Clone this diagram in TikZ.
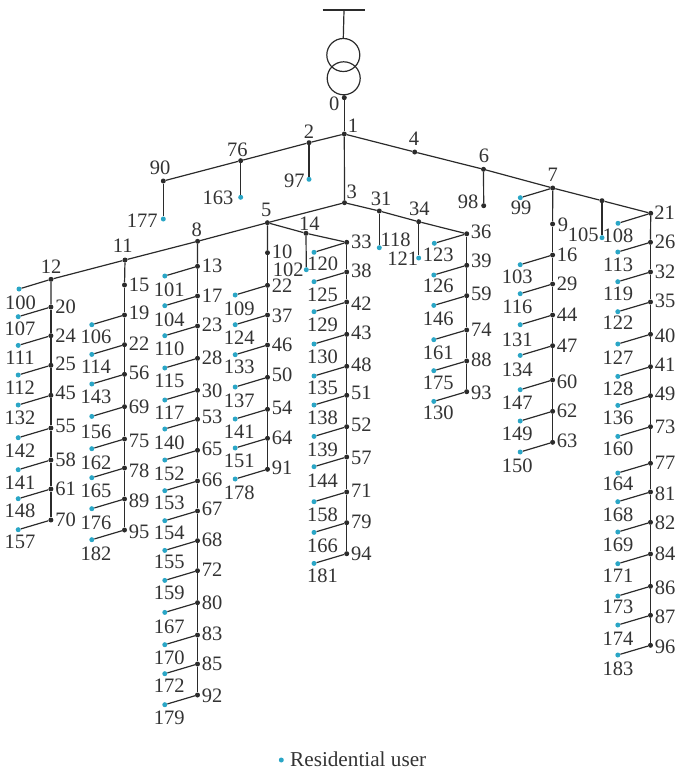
\documentclass[tikz,border=0pt]{standalone}
\usepackage{fontspec}
\setmainfont{Liberation Serif}
\definecolor{ink}{HTML}{2B2B2B}
\definecolor{txt}{HTML}{333333}
\definecolor{usr}{HTML}{2AA6C6}
\tikzset{
  busdot/.style={circle,fill=ink,inner sep=0pt,minimum size=5pt},
  usrdot/.style={circle,fill=usr,inner sep=0pt,minimum size=5pt},
  lab/.style={inner sep=0pt,text=txt,font=\fontsize{20.5}{20.5}\selectfont},
  wire/.style={draw=ink,line width=1.2pt},
  ring/.style={circle,draw=ink,line width=1.2pt,fill=none,inner sep=0pt,minimum size=33pt},
}
% bus: name, x, y, label, label x, label y
\newcommand{\busn}[6]{\node[busdot] (#1) at (#2,#3) {};\node[lab] (l#1) at (#5,#6) {#4};}
% user: name, x, y, label, label x, label y
\newcommand{\usern}[6]{\node[usrdot] (#1) at (#2,#3) {};\node[lab] (l#1) at (#5,#6) {#4};}
% column: id, bus x, user dot x, user label x, top bus, rows y/bus/label dy/user/user label y
\newcommand{\feeder}[6]{%
  \foreach \yy/\bb/\dd/\uu/\ll [remember=\bb as \pb (initially -1)] in {#6}{
    \node[busdot] (b#1\bb) at (#2,\yy) {};
    \ifnum\bb<10 \def\off{10.4}\else \def\off{14.6}\fi
    \node[lab] (lb#1\bb) at ({#2+\off},{\yy+\dd}) {\bb};
    \ifnum\pb<0 \draw[wire] (#5) -- (b#1\bb);\else \draw[wire] (b#1\pb) -- (b#1\bb);\fi
    \ifnum\uu>0
      \node[usrdot] (u#1\uu) at (#3,{\yy+9.7}) {};
      \node[lab] (lu#1\uu) at (#4,\ll) {\uu};
      \draw[wire] (b#1\bb) -- (u#1\uu);
    \fi
  }%
}
\begin{document}
\begin{tikzpicture}[x=1pt,y=-1pt]
\useasboundingbox (0,0) rectangle (676,771);
% source and transformer
\coordinate (barL) at (322.7,10.3);
\coordinate (barR) at (365.3,10.3);
\coordinate (barM) at (344,10.3);
\node[ring] (t1) at (343.3,55) {};
\node[ring] (t2) at (343.7,78.3) {};
\draw[ink,line width=2pt] (barL) -- (barR);
\draw[wire] (barM) -- (t1.north);
% main buses
\busn{b0}{344.3}{97.7}{0}{334.3}{103.3}
\busn{b1}{344.3}{134}{1}{353}{125.7}
\busn{b2}{309}{142.7}{2}{309}{131.7}
\busn{b76}{240.7}{160.7}{76}{237.3}{150}
\busn{b90}{163.3}{181}{90}{160}{168}
\busn{b3}{344.5}{202.7}{3}{351.7}{191.7}
\busn{b4}{414.7}{152}{4}{414}{138.3}
\busn{b6}{483.5}{169.3}{6}{484}{156}
\busn{b98}{483.7}{205.7}{98}{468}{202}
\busn{b7}{552.7}{188}{7}{552.7}{174.3}
\node[busdot] (bx) at (602,200.7) {};
\busn{b21}{650.7}{213.3}{21}{664.7}{212.3}
\busn{b5}{267.4}{222.7}{5}{266.3}{210}
\busn{b8}{197.6}{241.3}{8}{196.7}{229.3}
\busn{b11}{125}{260}{11}{122.7}{246}
\busn{b12}{51}{279.3}{12}{51}{266.7}
\busn{b14}{306}{233.3}{14}{309.3}{224}
\busn{b33}{346.7}{242.3}{33}{361.3}{242.3}
\busn{b31}{379.3}{211}{31}{381}{199}
\busn{b34}{418.7}{221.7}{34}{419.3}{209}
\busn{b36}{466.7}{233.8}{36}{481}{232.3}
% users hanging off the main buses
\usern{u97}{309}{179.3}{97}{294.3}{181}
\usern{u163}{240.7}{197.3}{163}{218}{198}
\usern{u177}{163.3}{219}{177}{142.3}{220.7}
\usern{u100}{19}{289}{100}{20.5}{303}
\usern{u102}{306.3}{269.7}{102}{288.3}{270}
\usern{u120}{314}{252.3}{120}{322.7}{264}
\usern{u118}{379.3}{247.7}{118}{395.7}{239.3}
\usern{u121}{418.7}{258}{121}{402.7}{258.3}
\usern{u123}{434.3}{243.3}{123}{438.3}{255}
\usern{u99}{520.3}{197.7}{99}{521}{207.7}
\usern{u105}{602}{237.7}{105}{583.3}{235}
\usern{u108}{618}{223.3}{108}{618}{235.3}
% main lines
\draw[wire] (t2.south) -- (b0);
\draw[wire] (b0) -- (b1);
\draw[wire] (b1) -- (b2);
\draw[wire] (b2) -- (b76);
\draw[wire] (b76) -- (b90);
\draw[wire] (b90) -- (u177);
\draw[wire] (b2) -- (u97);
\draw[wire] (b76) -- (u163);
\draw[wire] (b1) -- (b3);
\draw[wire] (b1) -- (b4);
\draw[wire] (b4) -- (b6);
\draw[wire] (b6) -- (b7);
\draw[wire] (b6) -- (b98);
\draw[wire] (b7) -- (bx);
\draw[wire] (bx) -- (b21);
\draw[wire] (bx) -- (u105);
\draw[wire] (b7) -- (u99);
\draw[wire] (b21) -- (u108);
\draw[wire] (b3) -- (b5);
\draw[wire] (b5) -- (b8);
\draw[wire] (b8) -- (b11);
\draw[wire] (b11) -- (b12);
\draw[wire] (b12) -- (u100);
\draw[wire] (b5) -- (b14);
\draw[wire] (b14) -- (b33);
\draw[wire] (b14) -- (u102);
\draw[wire] (b33) -- (u120);
\draw[wire] (b3) -- (b31);
\draw[wire] (b31) -- (b34);
\draw[wire] (b34) -- (b36);
\draw[wire] (b31) -- (u118);
\draw[wire] (b34) -- (u121);
\draw[wire] (b36) -- (u123);
% feeders
\feeder{a}{50.9}{18.2}{20}{b12}{307/20/0/107/329,335.7/24/0/111/358,365.3/25/-1/112/388,395.3/45/-2.7/132/418,428/55/-2/142/451,460/58/-0.7/141/482.3,489/61/-0.3/148/510.7,520/70/-0.7/157/542.3}
\feeder{b}{124.5}{91.8}{96}{b11}{285/15/0/0/0,315/19/-1.7/106/336.7,344.7/22/-0.7/114/366.7,374.3/56/-1.7/143/396.7,406.7/69/0/156/432.3,439/75/2/162/462.7,468/78/3/165/491,499/89/2/176/523.3,530/95/1.7/182/553.3}
\feeder{c}{197.5}{164.8}{169.3}{b8}{266.3/13/0/101/289.3,296/17/0/104/319.3,326/23/-1/110/349,358.3/28/-1/115/381,390.3/30/0/117/412.3,419.3/53/-2.7/140/442.7,450.3/65/-1.3/152/474.3,481/66/-1/153/502.7,511/67/-1.7/154/533.3,540.7/68/-1.3/155/562.3,570.7/72/-0.7/159/592.7,602.7/80/0/167/626.7,635/83/-1/170/657.3,664/85/0/172/686,695/92/0.7/179/718.3}
\feeder{d}{267.5}{235.2}{239.3}{b5}{252.7/10/-1/0/0,285.3/22/0.7/109/308.3,315/37/0.7/124/337.3,345/46/0/133/367.3,377.3/50/-2.3/137/400.7,409.3/54/-1/141/432,438.3/64/0/151/461.3,469.3/91/-1/178/492.3}
\feeder{e}{346.7}{314}{322.4}{b33}{272/38/-1/125/295,302/42/1.3/129/325,334.3/43/-1/130/357,366.3/48/-2/135/388.3,395.3/51/-2/138/417.7,426.7/52/-1.7/139/450,457/57/1.3/144/481,492/71/-1/158/515,522.7/79/-1/166/546,553.7/94/0/181/576}
\feeder{f}{466.7}{433.8}{438.3}{b36}{265.3/39/-4.3/126/285.7,295.7/59/-2/146/319.3,330/74/0/161/353.3,361/88/-1/175/382.7,391.7/93/1.3/130/413}
\feeder{g}{552.6}{520.2}{517.3}{b7}{224/9/1/0/0,255/16/0/103/276.7,284/29/0/116/306.7,315/44/0/131/340,345.7/47/0/134/370,380/60/1.7/147/402.7,411.3/62/0/149/434,442.3/63/-1.3/150/466}
\feeder{h}{650.5}{617.8}{618}{b21}{242.3/26/-0.7/113/265,272/32/0/119/294,302/35/-1/122/322.3,334.3/40/1.7/127/357.3,366.7/41/-1.7/128/388.3,395.7/49/-1.7/136/418.3,426.7/73/0/160/448.3,463.3/77/-0.7/164/484,492/81/1.3/168/515,522.3/82/0/169/545,554/84/0/171/576,586.3/86/1/173/607.3,615.3/87/1.3/174/638.3,645.3/96/1.3/183/668.3}
% legend
\node[usrdot] (legdot) at (281.3,760) {};
\node[lab,anchor=west,font=\fontsize{21.2}{21.2}\selectfont] (legtxt) at (290,759.5) {Residential user};
\end{tikzpicture}
\end{document}
